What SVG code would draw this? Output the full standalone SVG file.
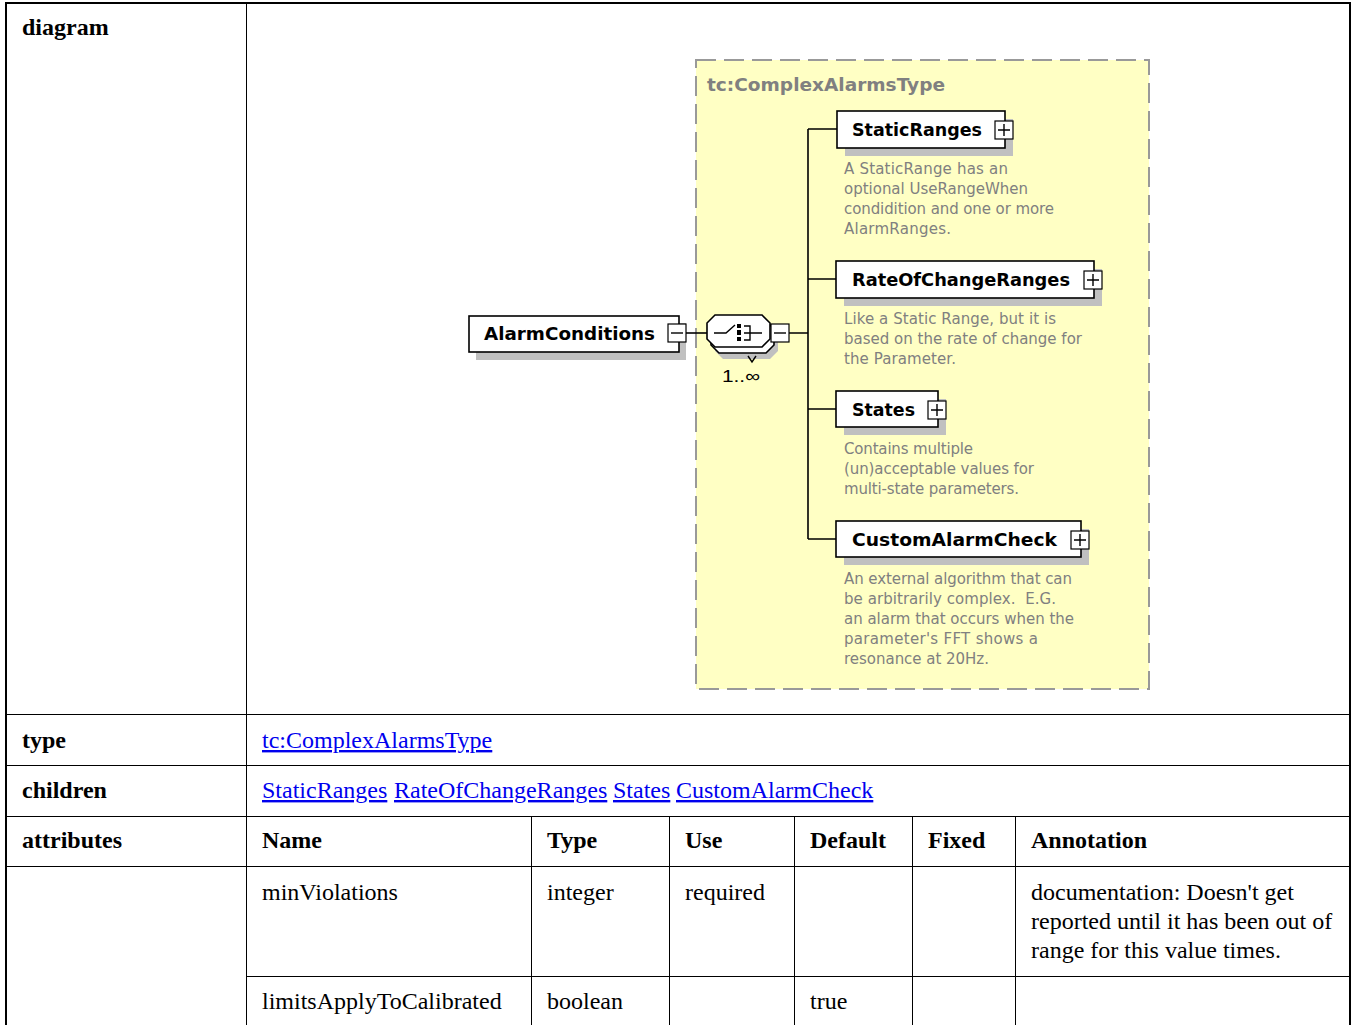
<svg xmlns="http://www.w3.org/2000/svg" width="1353" height="1025" viewBox="0 0 1353 1025">
  <style>
    .grid { stroke: #000; stroke-width: 1; fill: none; }
    .hd { font-family: "Liberation Serif", "Times New Roman", serif; font-size: 24px; font-weight: bold; fill: #000; }
    .td { font-family: "Liberation Serif", "Times New Roman", serif; font-size: 24px; fill: #000; }
    .lnk { font-family: "Liberation Serif", "Times New Roman", serif; font-size: 24px; fill: #0000ee; text-decoration: underline; }
    .group { fill: #ffffc4; stroke: #999; stroke-width: 2; stroke-dasharray: 20 8; }
    .title { font-family: "DejaVu Sans", Verdana, sans-serif; font-size: 18px; font-weight: bold; fill: #808080; }
    .box { fill: #fff; stroke: #000; stroke-width: 1.6; }
    .shadow { fill: #c0c0c0; stroke: none; }
    .name { font-family: "DejaVu Sans", Verdana, sans-serif; font-size: 18px; font-weight: bold; fill: #000; }
    .ann { font-family: "DejaVu Sans", Tahoma, sans-serif; font-size: 15px; fill: #808080; }
    .btn { fill: #fff; stroke: #000; stroke-width: 1.2; }
    .sym { stroke: #000; stroke-width: 1.4; fill: none; }
    .wire { stroke: #000; stroke-width: 1.6; fill: none; }
    .occ { font-family: "Liberation Sans", Arial, sans-serif; font-size: 17px; fill: #000; }
  </style>

  <rect x="0" y="0" width="1353" height="1025" fill="#fff"/>

  <!-- table frame -->
  <g id="table">
    <rect x="6" y="3" width="1344" height="1030" fill="none" stroke="#000" stroke-width="2"/>
    <path class="grid" d="M246.5,3 V1025 M6,714.5 H1350 M6,765.5 H1350 M6,816.5 H1350 M6,866.5 H1350 M246,976.5 H1350"/>
    <path class="grid" d="M531.5,816 V1025 M669.5,816 V1025 M794.5,816 V1025 M912.5,816 V1025 M1015.5,816 V1025"/>

    <text class="hd" x="22" y="35">diagram</text>
    <text class="hd" x="22" y="748">type</text>
    <text class="hd" x="22" y="798">children</text>
    <text class="hd" x="22" y="848">attributes</text>

    <text class="lnk" x="262" y="748">tc:ComplexAlarmsType</text>
    <text class="lnk" x="262" y="798">StaticRanges</text>
    <text class="lnk" x="394" y="798">RateOfChangeRanges</text>
    <text class="lnk" x="613" y="798">States</text>
    <text class="lnk" x="676" y="798">CustomAlarmCheck</text>

    <text class="hd" x="262" y="848">Name</text>
    <text class="hd" x="547" y="848">Type</text>
    <text class="hd" x="685" y="848">Use</text>
    <text class="hd" x="810" y="848">Default</text>
    <text class="hd" x="928" y="848">Fixed</text>
    <text class="hd" x="1031" y="848">Annotation</text>

    <text class="td" x="262" y="900">minViolations</text>
    <text class="td" x="547" y="900">integer</text>
    <text class="td" x="685" y="900">required</text>
    <text class="td" x="1031" y="900">documentation: Doesn't get</text>
    <text class="td" x="1031" y="929">reported until it has been out of</text>
    <text class="td" x="1031" y="958">range for this value times.</text>

    <text class="td" x="262" y="1009">limitsApplyToCalibrated</text>
    <text class="td" x="547" y="1009">boolean</text>
    <text class="td" x="810" y="1009">true</text>
  </g>

  <!-- complex type group -->
  <g id="complexType">
    <rect class="group" x="696" y="60" width="453" height="629"/>
    <text class="title" x="707" y="91" textLength="238" lengthAdjust="spacingAndGlyphs">tc:ComplexAlarmsType</text>
  </g>

  <!-- connectors -->
  <g id="connectors">
    <path class="wire" d="M686,333 H707"/>
    <path class="wire" d="M789,333 H808 M808,129 V539 M808,129 H837 M808,279 H836 M808,409 H836 M808,539 H836"/>
  </g>

  <!-- root element -->
  <g id="AlarmConditions">
    <rect class="shadow" x="476" y="323" width="210" height="37"/>
    <rect class="box" x="469" y="316" width="210" height="36"/>
    <text class="name" x="484" y="340" textLength="171" lengthAdjust="spacingAndGlyphs">AlarmConditions</text>
    <rect class="btn" x="668" y="324" width="18" height="18"/>
    <path class="sym" d="M671,333 H683"/>
  </g>

  <!-- sequence compositor, 1..unbounded -->
  <g id="sequence">
    <path class="shadow" d="M723,328 H770 L778,336 V351 L770,359 H723 L715,351 V336 Z"/>
    <path class="box" d="M719,321 H766 L774,329 V345 L766,353 H719 L711,345 V329 Z"/>
    <path class="box" d="M715,315 H762 L770,323 V339 L762,347 H715 L707,339 V323 Z"/>
    <path class="sym" d="M748,356 L752,362 L756,356" stroke="#666"/>
    <path class="sym" d="M714,333 H726 L735,325"/>
    <rect x="737" y="324" width="4" height="4" fill="#000"/>
    <rect x="737" y="330" width="4" height="5" fill="#000"/>
    <rect x="737" y="337" width="4" height="4" fill="#000"/>
    <path class="sym" d="M744,326 H750 V340 H744 M744,333 H762"/>
    <rect class="btn" x="771" y="324" width="18" height="18"/>
    <path class="sym" d="M774,333 H786"/>
    <text class="occ" x="722" y="382" textLength="38" lengthAdjust="spacingAndGlyphs">1..∞</text>
  </g>

  <!-- child elements -->
  <g id="StaticRanges">
    <rect class="shadow" x="845" y="119" width="168" height="37"/>
    <rect class="box" x="837" y="111" width="168" height="37"/>
    <text class="name" x="852" y="136" textLength="130" lengthAdjust="spacingAndGlyphs">StaticRanges</text>
    <rect class="btn" x="995" y="121" width="18" height="18"/>
    <path class="sym" d="M998,130 H1010 M1004,124 V136"/>
    <text class="ann" x="844" y="174" textLength="164">A StaticRange has an</text>
    <text class="ann" x="844" y="194" textLength="184">optional UseRangeWhen</text>
    <text class="ann" x="844" y="214" textLength="210">condidition and one or more</text>
    <text class="ann" x="844" y="234" textLength="107">AlarmRanges.</text>
  </g>

  <g id="RateOfChangeRanges">
    <rect class="shadow" x="844" y="269" width="258" height="37"/>
    <rect class="box" x="836" y="261" width="258" height="37"/>
    <text class="name" x="852" y="286" textLength="218" lengthAdjust="spacingAndGlyphs">RateOfChangeRanges</text>
    <rect class="btn" x="1084" y="271" width="18" height="18"/>
    <path class="sym" d="M1087,280 H1099 M1093,274 V286"/>
    <text class="ann" x="844" y="324" textLength="212">Like a Static Range, but it is</text>
    <text class="ann" x="844" y="344" textLength="238">based on the rate of change for</text>
    <text class="ann" x="844" y="364" textLength="112">the Parameter.</text>
  </g>

  <g id="States">
    <rect class="shadow" x="844" y="399" width="102" height="36"/>
    <rect class="box" x="836" y="391" width="102" height="36"/>
    <text class="name" x="852" y="416" textLength="63" lengthAdjust="spacingAndGlyphs">States</text>
    <rect class="btn" x="928" y="401" width="18" height="18"/>
    <path class="sym" d="M931,410 H943 M937,404 V416"/>
    <text class="ann" x="844" y="454" textLength="129">Contains multiple</text>
    <text class="ann" x="844" y="474" textLength="190">(un)acceptable values for</text>
    <text class="ann" x="844" y="494" textLength="175">multi-state parameters.</text>
  </g>

  <g id="CustomAlarmCheck">
    <rect class="shadow" x="844" y="529" width="245" height="36"/>
    <rect class="box" x="836" y="521" width="245" height="36"/>
    <text class="name" x="852" y="546" textLength="205" lengthAdjust="spacingAndGlyphs">CustomAlarmCheck</text>
    <rect class="btn" x="1071" y="531" width="18" height="18"/>
    <path class="sym" d="M1074,540 H1086 M1080,534 V546"/>
    <text class="ann" x="844" y="584" textLength="228">An external algorithm that can</text>
    <text class="ann" x="844" y="604" textLength="212" xml:space="preserve">be arbitrarily complex.  E.G.</text>
    <text class="ann" x="844" y="624" textLength="230">an alarm that occurs when the</text>
    <text class="ann" x="844" y="644" textLength="194">parameter's FFT shows a</text>
    <text class="ann" x="844" y="664" textLength="145">resonance at 20Hz.</text>
  </g>
</svg>
